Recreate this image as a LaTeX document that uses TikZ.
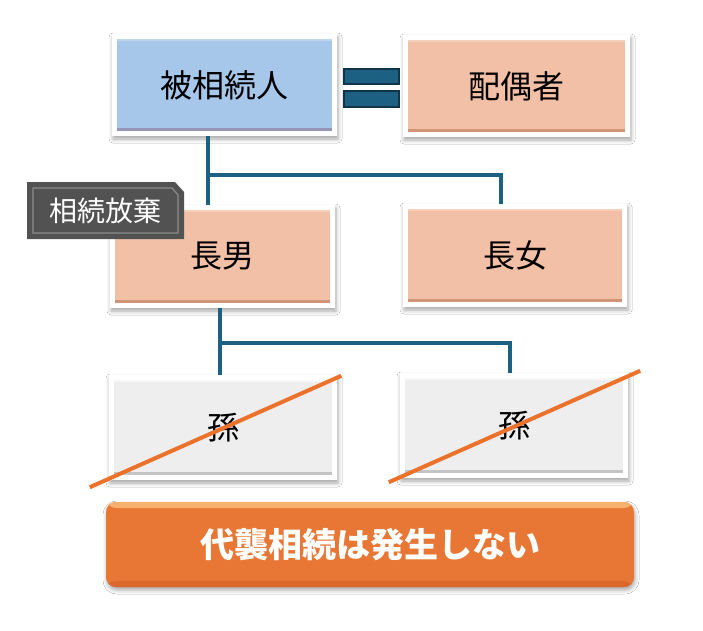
\documentclass[tikz,border=0pt]{standalone}
\usepackage{fontspec}
\newfontfamily\jpfont{Noto Sans CJK JP}
\usetikzlibrary{shadows.blur}
\definecolor{bluef}{RGB}{166,199,233}
\definecolor{bluehi}{RGB}{188,214,240}
\definecolor{bluelo}{RGB}{150,150,185}
\definecolor{salf}{RGB}{242,192,166}
\definecolor{salhi}{RGB}{247,206,184}
\definecolor{sallo}{RGB}{208,148,118}
\definecolor{greyf}{RGB}{238,238,238}
\definecolor{greyhi}{RGB}{247,247,247}
\definecolor{greylo}{RGB}{196,196,196}
\definecolor{linec}{RGB}{28,96,130}
\definecolor{eqdark}{RGB}{18,52,72}
\definecolor{crossc}{RGB}{236,114,44}
\definecolor{btnc}{RGB}{232,118,52}
\definecolor{btnhi}{RGB}{246,178,108}
\definecolor{btnlo}{RGB}{218,104,44}
\definecolor{tagc}{RGB}{82,82,82}
\definecolor{tagedge}{RGB}{140,140,140}
\begin{document}
\begin{tikzpicture}[x=1pt,y=-1pt,
  famframe/.style={rectangle, fill=white, inner sep=0pt,
    minimum width=225pt, minimum height=102pt,
    blur shadow={shadow xshift=1pt, shadow yshift=-3pt, shadow blur radius=4pt, shadow opacity=35},
    font=\jpfont\fontsize{32}{32}\selectfont, text=black},
  face/.style n args={3}{path picture={
    \fill[#1] ([shift={(5,5)}]path picture bounding box.north west) rectangle ([shift={(-5,-5)}]path picture bounding box.south east);
    \fill[#2] ([shift={(5,5)}]path picture bounding box.north west) rectangle ([shift={(-5,7)}]path picture bounding box.north east);
    \fill[#3] ([shift={(5,-8)}]path picture bounding box.south west) rectangle ([shift={(-5,-5)}]path picture bounding box.south east);
  }},
  famline/.style={draw=linec, line width=4pt},
  eqbar/.style={fill=linec, draw=eqdark, line width=1.5pt},
  crossline/.style={draw=crossc, line width=4pt},
  btn/.style={rectangle, rounded corners=10pt, fill=btnc, inner sep=0pt,
    minimum width=528pt, minimum height=85pt,
    blur shadow={shadow xshift=1pt, shadow yshift=-3pt, shadow blur radius=4pt, shadow opacity=35},
    path picture={
      \fill[btnhi] (path picture bounding box.north west) rectangle ([shift={(0,6)}]path picture bounding box.north east);
      \fill[btnlo] ([shift={(0,-6)}]path picture bounding box.south west) rectangle (path picture bounding box.south east);
    },
    font=\jpfont\bfseries\fontsize{34}{34}\selectfont, text=white},
  tagtext/.style={font=\jpfont\fontsize{28}{28}\selectfont, text=white, inner sep=0pt}
]
\useasboundingbox (0,0) rectangle (703,630);
\fill[white] (0,0) rectangle (703,630);

% family boxes
\node[famframe, face={bluef}{bluehi}{bluelo}] (hi) at (224.5,85) {被相続人};
\node[famframe, minimum width=227pt, face={salf}{salhi}{sallo}] (sp) at (516.5,86) {配偶者};
\node[famframe, minimum height=103pt, face={salf}{salhi}{sallo}] (son) at (222.5,256.5) {長男};
\node[famframe, minimum width=224pt, minimum height=103pt, face={salf}{salhi}{sallo}] (dau) at (515,255.5) {長女};
\node[famframe, minimum width=228pt, minimum height=105pt, face={greyf}{greyhi}{greylo}] (g1) at (223,427.5) {孫};
\node[famframe, minimum width=228pt, minimum height=105pt, face={greyf}{greyhi}{greylo}] (g2) at (514,425.5) {孫};

% marriage sign
\draw[eqbar] ([shift={(7,-16)}]hi.east) rectangle ([shift={(62,-1)}]hi.east);
\draw[eqbar] ([shift={(7,6)}]hi.east) rectangle ([shift={(62,22)}]hi.east);

% descent lines
\coordinate (b1) at (208,175);
\coordinate (b1r) at (501,175);
\draw[famline] (b1 |- hi.south) -- (b1 |- son.north);
\draw[famline] (b1) -- (b1r) -- (b1r |- dau.north);
\coordinate (b2) at (220,343);
\coordinate (b2r) at (510,343);
\draw[famline] (b2 |- son.south) -- (b2 |- g1.north);
\draw[famline] (b2) -- (b2r) -- (b2r |- g2.north);

% crossed-out grandchildren
\draw[crossline] ([shift={(-19,7)}]g1.south west) -- ([shift={(4,1)}]g1.north east);
\draw[crossline] ([shift={(-11,4)}]g2.south west) -- ([shift={(12,-2)}]g2.north east);

% renunciation tag
\fill[tagc] (27,182) -- (175,182) -- (184,192) -- (184,239) -- (27,239) -- cycle;
\draw[tagedge, line width=1.2pt] (33,188) -- (172,188) -- (178,195) -- (178,233) -- (33,233) -- cycle;
\node[tagtext] (tag) at (105.5,210.5) {相続放棄};

% result button
\node[btn] (res) at (370,544.5) {代襲相続は発生しない};
\end{tikzpicture}
\end{document}
